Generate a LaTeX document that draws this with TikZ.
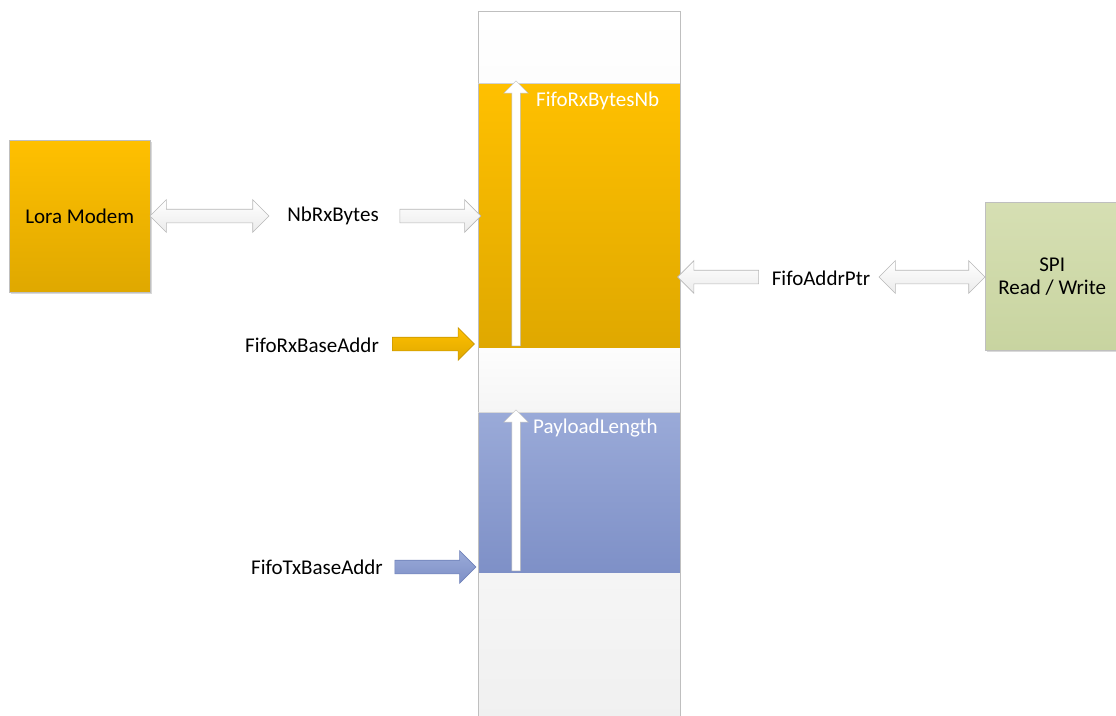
\documentclass[tikz,border=0pt]{standalone}
\usepackage{fontspec}
\setmainfont{Carlito}
\usetikzlibrary{shapes.arrows,shadows}
\definecolor{orT}{HTML}{FFC000}
\definecolor{orB}{HTML}{DFA800}
\definecolor{orE}{HTML}{C89600}
\definecolor{blT}{HTML}{9AAAD8}
\definecolor{blB}{HTML}{7E90C7}
\definecolor{blE}{HTML}{7082BA}
\definecolor{grT}{HTML}{D6DFB3}
\definecolor{grB}{HTML}{C8D4A0}
\definecolor{edge}{HTML}{BFBFBF}
\definecolor{arB}{HTML}{EBEBEB}
\definecolor{arE}{HTML}{B8B8B8}
\definecolor{memT}{HTML}{FDFDFD}
\definecolor{memM}{HTML}{F5F5F5}
\definecolor{memB}{HTML}{F0F0F0}
\begin{document}
\begin{tikzpicture}[x=1pt,y=-1pt,
  font=\fontsize{21}{23}\selectfont,
  every node/.style={inner sep=0},
  sect/.style={rectangle, draw=none, minimum width=202, anchor=north west},
  boxshadow/.style={drop shadow={shadow xshift=1.5pt, shadow yshift=-1.5pt, opacity=0.3, fill=gray}},
  lorabox/.style={rectangle, draw=edge, top color=orT, bottom color=orB, boxshadow, anchor=north west},
  spibox/.style={rectangle, draw=edge, top color=grT, bottom color=grB, boxshadow, anchor=north west, align=center},
  dblarrow/.style={double arrow, draw=arE, line width=0.6pt, top color=white, bottom color=arB, inner xsep=0, inner ysep=6.5pt, double arrow head extend=9.5pt},
  sglarrow/.style={single arrow, draw=arE, line width=0.6pt, top color=white, bottom color=arB, inner xsep=0, inner ysep=6.5pt, single arrow head extend=9.5pt},
  orarrow/.style={sglarrow, draw=orE, top color=orT, bottom color=orB},
  blarrow/.style={sglarrow, draw=blE, top color=blT, bottom color=blB},
  uparrow/.style={single arrow, shape border rotate=90, draw=edge, line width=0.5pt, fill=white, inner xsep=4pt, inner ysep=0, single arrow head extend=8pt},
  lbl/.style={text=black},
  wlbl/.style={text=white, anchor=west}
]
\useasboundingbox (0,0) rectangle (1116,715);

% memory column
\node[sect, minimum height=72, top color=white, bottom color=memT] (m0) at (478,11) {};
\node[sect, minimum height=265, top color=orT, bottom color=orB] (mrx) at (478,83) {};
\node[sect, minimum height=64, top color=memT, bottom color=memM] (m1) at (478,348) {};
\node[sect, minimum height=161, top color=blT, bottom color=blB] (mtx) at (478,412) {};
\node[sect, minimum height=150, top color=memM, bottom color=memB] (m2) at (478,573) {};
\draw[edge, line width=0.8pt] (m0.north west) rectangle (m2.south east);
\draw[edge!70, line width=0.5pt] (m0.south west) -- (m0.south east);
\draw[edge!60, line width=0.5pt] (m1.south west) -- (m1.south east);

% inner up arrows
\node[uparrow, minimum height=265] (uprx) at (516,215.5) {};
\node[uparrow, minimum height=161] (uptx) at (516,492.5) {};
\node[wlbl] (rxnb) at (536,101) {FifoRxBytesNb};
\node[wlbl] (plen) at (533,428) {PayloadLength};

% boxes
\node[lorabox, minimum width=141, minimum height=152] (lora) at (9,140) {Lora Modem};
\node[spibox, minimum width=134, minimum height=148] (spi) at (985,202) {SPI\\Read / Write};

% labels
\node[lbl] (nbrx) at (333,216) {NbRxBytes};
\node[lbl] (rxbase) at (312,345) {FifoRxBaseAddr};
\node[lbl] (txbase) at (317,567) {FifoTxBaseAddr};
\node[lbl] (addrptr) at (821,278) {FifoAddrPtr};

% block arrows
\node[dblarrow, minimum height=119] (a1) at (209.5,216) {};
\node[sglarrow, minimum height=81] (a2) at (437,216) {};
\node[orarrow, minimum height=82] (a3) at (430,344) {};
\node[blarrow, minimum height=81] (a4) at (432,567) {};
\node[sglarrow, shape border rotate=180, minimum height=81] (a5) at (721.5,277) {};
\node[dblarrow, minimum height=106] (a6) at (932,277) {};
\end{tikzpicture}
\end{document}
